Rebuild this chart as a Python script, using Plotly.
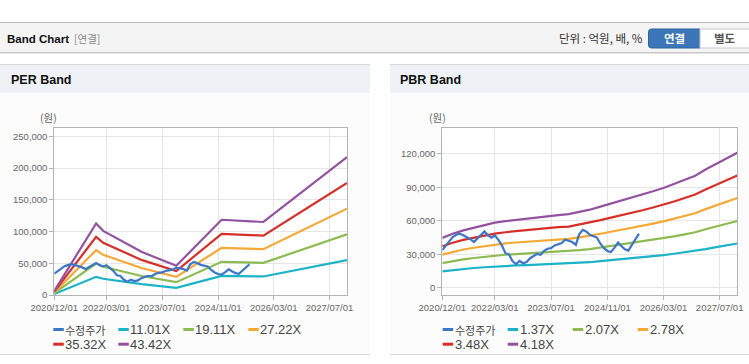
import plotly.graph_objects as go
import pandas as pd

# ---------------- data ----------------
per_labels = ["11.01X", "19.11X", "27.22X", "35.32X", "43.42X"]
pbr_labels = ["1.37X", "2.07X", "2.78X", "3.48X", "4.18X"]
price_name = "수정주가"

# adjusted price, monthly from 2020/12
price = [33.7, 38, 42, 45.5, 47.5, 48.5, 47, 45.5, 43.5, 41, 44, 47.5, 50.5, 47, 45, 47,
         43, 38, 31, 30, 24, 21, 24, 22, 23, 26.5, 28.5, 30.3, 29.5, 33, 35, 35.5, 38,
         39, 40, 43, 42, 41, 38.5, 48, 52, 50.5, 47.5, 46.5, 45, 39.5, 35.5, 33, 32,
         36, 40.5, 37.5, 34.5, 33.3, 38.5, 44, 48.5]
price = [v * 1000 for v in price]
price_dates = pd.date_range("2020-12-01", periods=len(price), freq="MS")

# PER band vertices
per_dates = ["2020-12-01", "2021-12-01", "2022-02-01", "2023-01-01", "2023-11-01",
             "2024-12-01", "2025-12-01", "2027-12-01"]
per_1101 = [1.6, 28.6, 25.6, 17.2, 11.2, 30.1, 29.2, 55.0]
per_1911 = [2.9, 49.6, 44.5, 29.9, 20.2, 52.2, 50.6, 95.5]
per_2722 = [4.1, 70.6, 63.3, 42.6, 28.5, 74.3, 72.1, 136.0]
per_3532 = [5.3, 91.6, 82.2, 55.3, 37.8, 96.4, 93.5, 176.5]
per_4342 = [6.5, 112.6, 101.0, 68.0, 46.0, 118.5, 115.0, 217.0]

# PBR band, quarterly from 2020/12
pbr_dates = pd.date_range("2020-12-01", periods=29, freq="3MS")
pbr_137 = [14.7, 15.9, 16.9, 17.7, 18.4, 19.1, 19.6, 20.0, 20.3, 20.7, 21.1, 21.4, 21.6, 22.3,
           22.9, 23.9, 24.7, 25.6, 26.4, 27.4, 28.4, 29.3, 30.5, 31.7, 32.9, 34.7, 36.4, 38.0, 39.7]
pbr_207 = [22.1, 24.0, 25.5, 26.7, 27.7, 28.9, 29.6, 30.2, 30.7, 31.3, 31.8, 32.3, 32.7, 33.7,
           34.7, 36.1, 37.4, 38.6, 39.9, 41.3, 42.8, 44.3, 46.1, 47.9, 49.8, 52.5, 55.0, 57.4, 59.9]
pbr_278 = [29.7, 32.3, 34.3, 35.9, 37.2, 38.8, 39.8, 40.6, 41.2, 42.0, 42.8, 43.4, 43.9, 45.2,
           46.6, 48.4, 50.2, 51.9, 53.5, 55.5, 57.5, 59.5, 61.9, 64.3, 66.8, 70.5, 73.8, 77.2, 80.5]
pbr_348 = [37.2, 40.4, 42.9, 45.0, 46.6, 48.6, 49.8, 50.8, 51.6, 52.6, 53.5, 54.3, 54.9, 56.6,
           58.3, 60.6, 62.9, 64.9, 67.0, 69.5, 72.0, 74.5, 77.4, 80.5, 83.7, 88.2, 92.4, 96.6, 100.7]
pbr_418 = [44.7, 48.5, 51.5, 54.0, 56.0, 58.4, 59.8, 61.0, 62.0, 63.2, 64.3, 65.2, 66.0, 68.0,
           70.0, 72.8, 75.5, 78.0, 80.5, 83.5, 86.5, 89.5, 93.0, 96.7, 100.5, 106.0, 111.0, 116.0, 121.0]

per_bands = [[v * 1000 for v in s] for s in (per_1101, per_1911, per_2722, per_3532, per_4342)]
pbr_bands = [[v * 1000 for v in s] for s in (pbr_137, pbr_207, pbr_278, pbr_348, pbr_418)]

x_tickvals = ["2020-12-01", "2022-03-01", "2023-07-01", "2024-11-01", "2026-03-01", "2027-07-01"]
x_ticktext = ["2020/12/01", "2022/03/01", "2023/07/01", "2024/11/01", "2026/03/01", "2027/07/01"]
per_yticks = [0, 50000, 100000, 150000, 200000, 250000]
pbr_yticks = [0, 30000, 60000, 90000, 120000]

# ---------------- style ----------------
W, H = 749, 364
price_color = "#3a77c6"
band_colors = ["#1cb2c8", "#8dbb52", "#f5a835", "#d52f28", "#93529f"]
grid = "#e6e6e6"
axis_line = "#b3b3b3"
tick_font = dict(family="Liberation Sans, Arial, sans-serif", size=9.5, color="#666666")
kfont = "Noto Sans CJK KR, sans-serif"
lfont = "Liberation Sans, Arial, sans-serif"

def fx(x):
    return x / W

def fy(y):
    return 1 - y / H

fig = go.Figure()

for i, s in enumerate(per_bands):
    fig.add_trace(go.Scatter(x=per_dates, y=s, mode="lines", name=per_labels[i],
                             line=dict(color=band_colors[i], width=2.2), xaxis="x", yaxis="y",
                             showlegend=False))
fig.add_trace(go.Scatter(x=price_dates, y=price, mode="lines", name=price_name,
                         line=dict(color=price_color, width=2.2), xaxis="x", yaxis="y",
                         showlegend=False))
for i, s in enumerate(pbr_bands):
    fig.add_trace(go.Scatter(x=pbr_dates, y=s, mode="lines", name=pbr_labels[i],
                             line=dict(color=band_colors[i], width=2.2), xaxis="x2", yaxis="y2",
                             showlegend=False))
fig.add_trace(go.Scatter(x=price_dates, y=price, mode="lines", name=price_name,
                         line=dict(color=price_color, width=2.2), xaxis="x2", yaxis="y2",
                         showlegend=False))

xcommon = dict(type="date", range=["2020-12-01", "2027-12-01"], tickvals=x_tickvals,
               ticktext=x_ticktext, tickangle=0, showgrid=True, gridcolor=grid, gridwidth=1,
               showline=True, linecolor=axis_line, linewidth=1, mirror=True,
               ticks="outside", ticklen=4, tickcolor=axis_line, tickfont=tick_font,
               zeroline=False, fixedrange=True, automargin=False)
ycommon = dict(showgrid=True, gridcolor=grid, gridwidth=1, showline=True, linecolor=axis_line,
               linewidth=1, mirror=True, ticks="outside", ticklen=4, tickcolor=axis_line,
               tickfont=tick_font, zeroline=False, tickformat=",d", fixedrange=True,
               automargin=False)

fig.update_layout(
    width=W, height=H, margin=dict(l=0, r=0, t=0, b=0, pad=0, autoexpand=False),
    paper_bgcolor="white", plot_bgcolor="white", showlegend=False,
    xaxis=dict(xcommon, domain=[fx(54.3), fx(347)], anchor="y"),
    yaxis=dict(ycommon, domain=[fy(295), fy(128)], range=[0, 263000], tickvals=per_yticks, anchor="x"),
    xaxis2=dict(xcommon, domain=[fx(442.3), fx(737.3)], anchor="y2"),
    yaxis2=dict(ycommon, domain=[fy(295), fy(128.3)], range=[-6500, 143000], tickvals=pbr_yticks, anchor="x2"),
)

shapes = []

def rect(x0, y0, x1, y1, fill, line=None, lw=1):
    shapes.append(dict(type="rect", xref="paper", yref="paper", x0=fx(x0), x1=fx(x1),
                       y0=fy(y1), y1=fy(y0), fillcolor=fill, layer="below",
                       line=dict(width=lw if line else 0, color=line or fill)))

def hline(x0, x1, y, color, width=1, layer="below"):
    shapes.append(dict(type="line", xref="paper", yref="paper", x0=fx(x0), x1=fx(x1),
                       y0=fy(y), y1=fy(y), layer=layer, line=dict(color=color, width=width)))

# top header bar
rect(0, 22, 749, 53, "#f4f4f4")
hline(0, 749, 22.5, "#bdbdbd")
hline(0, 749, 52.5, "#c9c9c9")
hline(0, 749, 53.5, "#e4e4e4")
# buttons
r = 3
bx0, bx1, by0, by1 = 648.5, 700, 29, 48
path = (f"M {fx(bx0 + r)},{fy(by0)} L {fx(bx1)},{fy(by0)} L {fx(bx1)},{fy(by1)} "
        f"L {fx(bx0 + r)},{fy(by1)} Q {fx(bx0)},{fy(by1)} {fx(bx0)},{fy(by1 - r)} "
        f"L {fx(bx0)},{fy(by0 + r)} Q {fx(bx0)},{fy(by0)} {fx(bx0 + r)},{fy(by0)} Z")
shapes.append(dict(type="path", xref="paper", yref="paper", path=path, fillcolor="#3b77b8",
                   line=dict(color="#2e65a2", width=1), layer="below"))
rect(700, 29, 752, 48, "#ffffff", "#c8c8c8")

# panels
for (px0, px1) in [(0, 370), (390, 749)]:
    rect(px0, 64, px1, 93, "#eef2f7")
    rect(px0, 93, px1, 354, "#fcfcfc")
    hline(px0, px1, 64.5, "#d8d8d8")
    hline(px0, px1, 354.5, "#dadada")
# plot area backgrounds
rect(54.3, 128, 347, 295, "#ffffff")
rect(442.3, 128.3, 737.3, 295, "#ffffff")

annotations = []

def text(x, y, s, size, color, family=kfont, anchor="left"):
    annotations.append(dict(x=fx(x), y=fy(y), xref="paper", yref="paper", text=s,
                            showarrow=False, xanchor=anchor, yanchor="middle",
                            borderpad=0, borderwidth=0,
                            font=dict(size=size, color=color, family=family)))

text(7, 39, "<b>Band Chart</b>", 11.5, "#111111", lfont)
text(74, 39, "[연결]", 10.5, "#8a8a8a")
text(643, 38.5, "단위 : 억원, 배, %", 11.5, "#333333", anchor="right")
text(674.5, 38.5, "<b>연결</b>", 11.5, "#ffffff", anchor="center")
text(725, 38.5, "<b>별도</b>", 11.5, "#555555", anchor="center")
text(11, 80, "<b>PER Band</b>", 12.5, "#111111", lfont)
text(400, 80, "<b>PBR Band</b>", 12.5, "#111111", lfont)
text(48, 118, "(원)", 10.5, "#666666", anchor="center")
text(437, 118, "(원)", 10.5, "#666666", anchor="center")

# custom legends
def legend(x0, labels):
    names = [price_name] + labels
    colors = [price_color] + band_colors
    cols = [x0, x0 + 65, x0 + 130, x0 + 195]
    for i, (nm, c) in enumerate(zip(names, colors)):
        row, col = divmod(i, 4)
        lx = cols[col]
        ly = 329.5 + row * 14.7
        hline(lx, lx + 10.5, ly, c, width=3, layer="above")
        if i == 0:
            text(lx + 12, ly, nm, 11, "#444444", kfont)
        else:
            text(lx + 12, ly, nm, 13, "#444444", lfont)

legend(53.3, per_labels)
legend(442.7, pbr_labels)

fig.update_layout(shapes=shapes, annotations=annotations)
fig.write_html(
    "out.html",
    config={"displayModeBar": False},
    post_script="document.documentElement.style.overflow='hidden';"
                "document.body.style.overflow='hidden';document.body.style.margin='0';",
)
